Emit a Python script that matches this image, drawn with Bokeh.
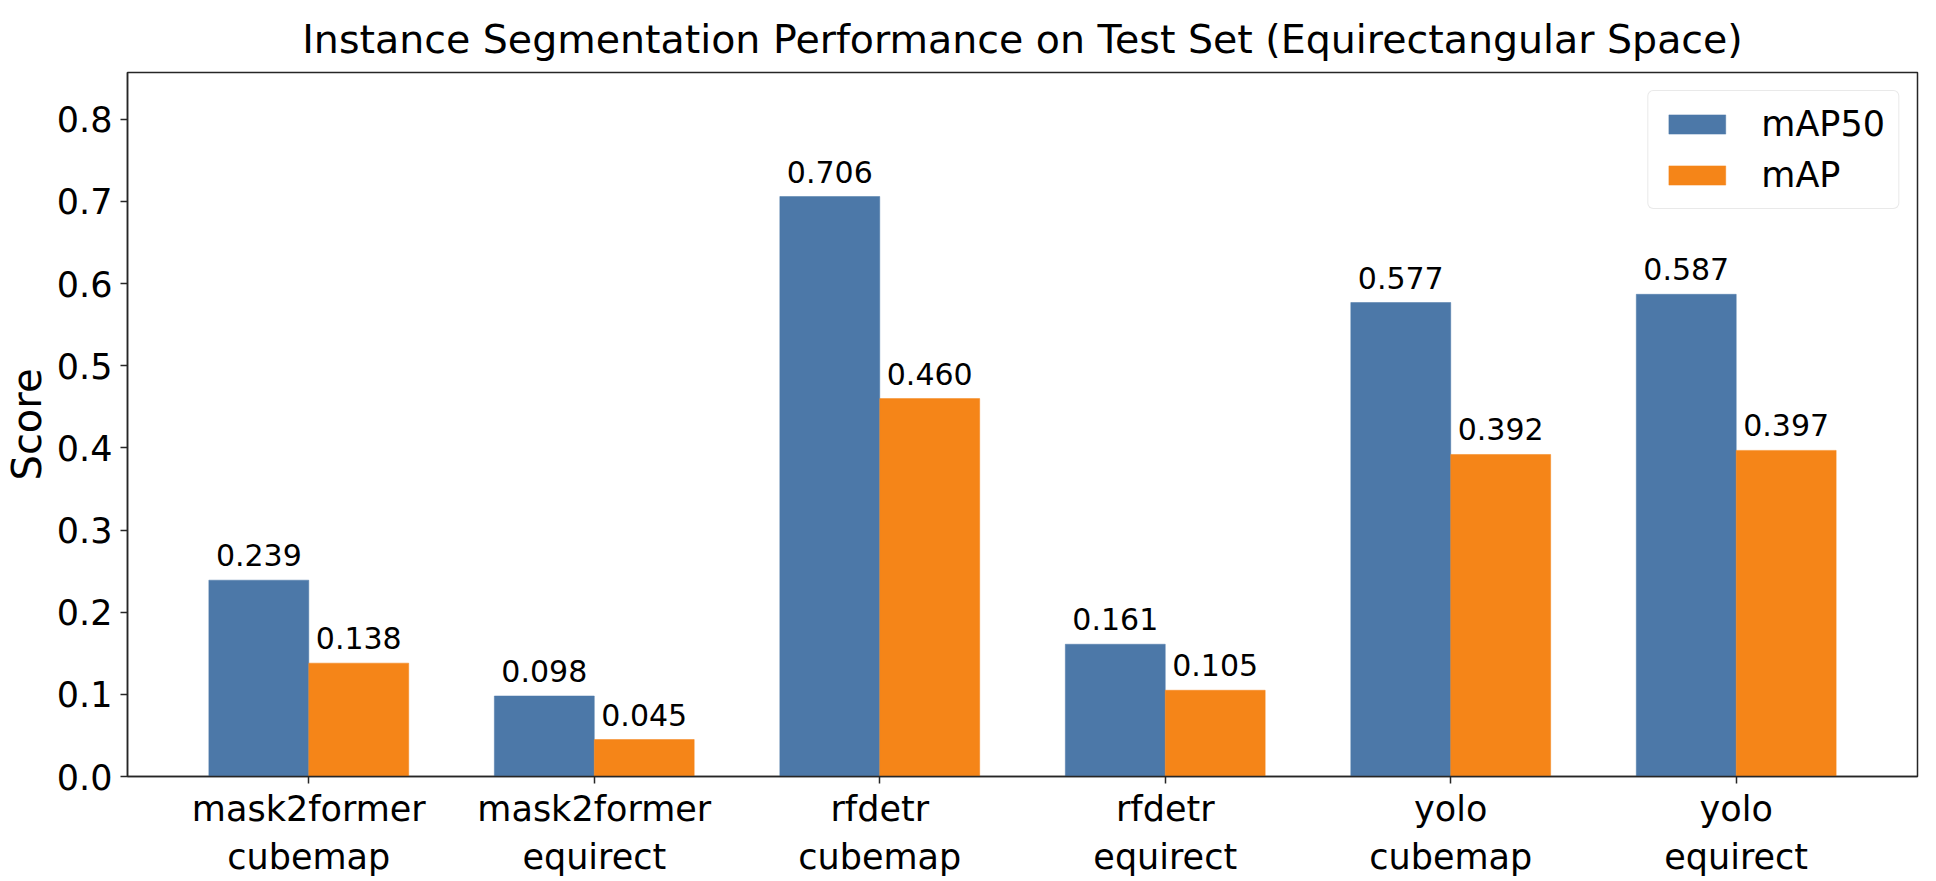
from bokeh.core.properties import value
from bokeh.embed import file_html
from bokeh.models import ColumnDataSource, FixedTicker, Range1d, Legend, LegendItem, LabelSet
from bokeh.plotting import figure
from bokeh.resources import INLINE
from bokeh.transform import dodge

# donnees
modeles = ["mask2former\ncubemap", "mask2former\nequirect", "rfdetr\ncubemap",
           "rfdetr\nequirect", "yolo\ncubemap", "yolo\nequirect"]
map50 = [0.239, 0.098, 0.706, 0.161, 0.577, 0.587]
map_all = [0.138, 0.045, 0.460, 0.105, 0.392, 0.397]
y_ticks = [0.0, 0.1, 0.2, 0.3, 0.4, 0.5, 0.6, 0.7, 0.8]

BLEU = "#4c78a8"
ORANGE = "#f58518"
FONT = "DejaVu Sans"
largeur = 0.35

idx = list(range(len(modeles)))
src = ColumnDataSource(data=dict(
    idx=idx,
    map50=map50,
    map_all=map_all,
    lab50=[f"{v:.3f}" for v in map50],
    lab=[f"{v:.3f}" for v in map_all],
))

p = figure(frame_width=1790, frame_height=704, output_backend="svg", toolbar_location=None,
           x_range=Range1d(-0.635, 5.635), y_range=Range1d(0, 0.857),
           min_border_left=123, min_border_right=7, min_border_top=72, min_border_bottom=10)

p.title.text = "Instance Segmentation Performance on Test Set (Equirectangular Space)"
p.title.align = "center"
p.title.text_font = FONT
p.title.text_font_size = "39.5px"
p.title.text_font_style = "normal"
p.title.text_color = "black"
p.title.standoff = 22

r1 = p.vbar(x=dodge("idx", -largeur / 2, range=p.x_range), top="map50", width=largeur,
            source=src, fill_color=BLEU, line_color=BLEU, line_width=0.5)
r2 = p.vbar(x=dodge("idx", largeur / 2, range=p.x_range), top="map_all", width=largeur,
            source=src, fill_color=ORANGE, line_color=ORANGE, line_width=0.5)

# etiquettes au-dessus des barres
for col, lab, dx in [("map50", "lab50", -largeur / 2), ("map_all", "lab", largeur / 2)]:
    labels = LabelSet(x=dodge("idx", dx, range=p.x_range), y=col, text=lab, source=src,
                      text_align="center", text_baseline="alphabetic", y_offset=14,
                      text_font=value(FONT), text_font_size=value("30px"),
                      text_color=value("black"))
    p.add_layout(labels)

legend = Legend(items=[LegendItem(label="mAP50", renderers=[r1]),
                       LegendItem(label="mAP", renderers=[r2])],
                location="top_right")
legend.label_text_font = FONT
legend.label_text_font_size = "35px"
legend.label_text_color = "black"
legend.glyph_width = 71
legend.glyph_height = 24
legend.label_height = 40
legend.label_standoff = 29
legend.spacing = 11
legend.padding = 13
legend.margin = 18
legend.border_line_color = "#d4d4d4"
legend.border_line_width = 1.5
legend.border_radius = 6
legend.background_fill_alpha = 0.8
p.add_layout(legend)

# axes
p.xaxis.ticker = FixedTicker(ticks=idx)
p.xaxis.major_label_overrides = {i: m for i, m in zip(idx, modeles)}
p.yaxis.ticker = FixedTicker(ticks=y_ticks)
p.yaxis.major_label_overrides = {t: f"{t:.1f}" for t in y_ticks}
p.yaxis.axis_label = "Score"

for ax in (p.xaxis, p.yaxis):
    ax.major_label_text_font = FONT
    ax.major_label_text_font_size = "35px"
    ax.major_label_text_color = "black"
    ax.major_tick_out = 7
    ax.major_tick_in = 0
    ax.minor_tick_line_color = None
    ax.axis_line_color = "#262626"
    ax.axis_line_width = 1.5
    ax.major_tick_line_color = "#262626"
    ax.major_tick_line_width = 1.5
    ax.axis_label_text_font = FONT
    ax.axis_label_text_font_size = "40px"
    ax.axis_label_text_font_style = "normal"
    ax.axis_label_text_color = "black"

p.xaxis.major_label_standoff = 5
p.yaxis.major_label_standoff = 8
p.yaxis.axis_label_standoff = 4

p.xgrid.grid_line_color = None
p.ygrid.grid_line_color = None
p.outline_line_color = "#262626"
p.outline_line_width = 1.5
p.outline_line_alpha = 1

open("out.html", "w").write(file_html(p, INLINE))
